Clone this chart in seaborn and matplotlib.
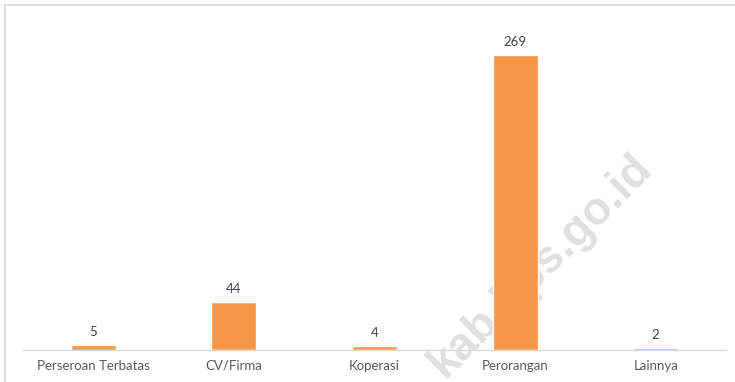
import matplotlib
matplotlib.use("Agg")
import matplotlib.pyplot as plt
from matplotlib.lines import Line2D
import seaborn as sns
import pandas as pd

categories = ["Perseroan Terbatas", "CV/Firma", "Koperasi", "Perorangan", "Lainnya"]
values = [5, 44, 4, 269, 2]

df = pd.DataFrame({"jenis": categories, "jumlah": values})

sns.set_theme(style="white")
plt.rcParams["font.family"] = ["Lato", "DejaVu Sans"]

W, H = 735, 382
fig = plt.figure(figsize=(W / 100, H / 100), dpi=100)
ax = fig.add_axes([23 / W, (H - 350) / H, (726 - 23) / W, (350 - 21) / H])

sns.barplot(data=df, x="jenis", y="jumlah", color="#F79646", saturation=1,
            width=0.32, ax=ax, zorder=2)

ax.set_ylim(0, 300)
ax.set_xlim(-0.5, len(categories) - 0.5)
ax.set_xlabel("")
ax.set_ylabel("")
ax.set_yticks([])
for side in ["top", "right", "left"]:
    ax.spines[side].set_visible(False)
ax.spines["bottom"].set_color("#D9D9D9")
ax.spines["bottom"].set_linewidth(1.0)
ax.tick_params(axis="x", length=0, pad=7, labelsize=9.5, labelcolor="#595959")

for i, v in enumerate(values):
    ax.annotate(str(v), (i, v), xytext=(0, 5), textcoords="offset points",
                ha="center", va="bottom", fontsize=9.5, color="#404040")

# diagonal site watermark behind the bars
ax.text(0.737, 0.256, "kab.bps.go.id", transform=ax.transAxes, rotation=45,
        ha="center", va="center", fontsize=33, fontweight="bold",
        family="Liberation Sans", color="#E0E0E0", zorder=1, clip_on=False)

# frame edges on top and left
fig.add_artist(Line2D([5 / W, 1], [1 - 5 / H, 1 - 5 / H], color="#D9D9D9", lw=1.2))
fig.add_artist(Line2D([5 / W, 5 / W], [0, 1 - 5 / H], color="#D9D9D9", lw=1.2))

fig.savefig("out.png", dpi=100, facecolor="white")
